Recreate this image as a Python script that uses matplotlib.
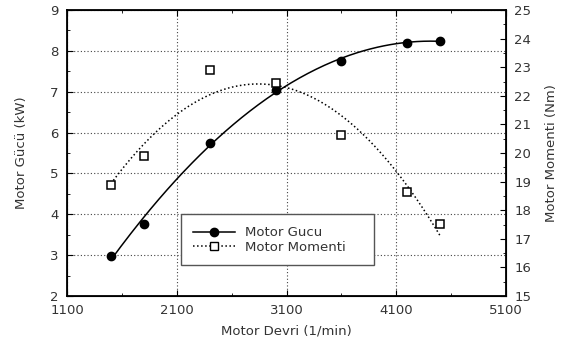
import numpy as np
import matplotlib
matplotlib.use("Agg")
import matplotlib.pyplot as plt
from matplotlib.ticker import MultipleLocator

# veriler
devir = [1500, 1800, 2400, 3000, 3600, 4200, 4500]
guc = [2.98, 3.76, 5.74, 7.04, 7.76, 8.20, 8.25]
moment = [18.88, 19.90, 22.90, 22.44, 20.62, 18.64, 17.52]

plt.rcParams['font.family'] = ['DejaVu Sans']
plt.rcParams['font.size'] = 9.5

fig = plt.figure(figsize=(5.66, 3.44), dpi=100)
ax = fig.add_axes([67/566, 48/344, 439/566, 286/344])
ax2 = ax.twinx()

# ikinci derece egri uydurma
xs = np.linspace(min(devir), max(devir), 200)
p1 = np.polyfit(devir, guc, 2)
p2 = np.polyfit(devir, moment, 2)

ax.plot(xs, np.polyval(p1, xs), '-', color='black', lw=1.1)
ax.plot(devir, guc, 'o', color='black', ms=6)
ax2.plot(xs, np.polyval(p2, xs), ':', color='black', lw=1.1)
ax2.plot(devir, moment, 's', mfc='white', mec='black', mew=1.1, ms=6)

ax.set_xlim(1100, 5100)
ax.set_ylim(2, 9)
ax2.set_ylim(15, 25)
ax.xaxis.set_major_locator(MultipleLocator(1000, offset=100))
ax.xaxis.set_minor_locator(MultipleLocator(500, offset=100))
ax.yaxis.set_major_locator(MultipleLocator(1))
ax.yaxis.set_minor_locator(MultipleLocator(0.5))
ax2.yaxis.set_major_locator(MultipleLocator(1))
ax2.yaxis.set_minor_locator(MultipleLocator(0.5))

ax.grid(True, which='major', linestyle=(0, (1, 2)), color='#444444', lw=0.8)
for a in (ax, ax2):
    a.tick_params(which='both', direction='in', colors='black', labelcolor='#333333', pad=6)
    a.tick_params(which='major', length=4)
    a.tick_params(which='minor', length=2.5)
ax.tick_params(top=True, which='both', labeltop=False)
for s in ax.spines.values():
    s.set_linewidth(1.3)

ax.set_xlabel('Motor Devri (1/min)', color='#333333', labelpad=5)
ax.set_ylabel('Motor Gücü (kW)', color='#333333', labelpad=16)
ax2.set_ylabel('Motor Momenti (Nm)', color='#333333', labelpad=10)

h1 = plt.Line2D([], [], color='black', lw=1.1, marker='o', ms=6)
h2 = plt.Line2D([], [], color='black', lw=1.1, ls=':', marker='s', mfc='white', mec='black', ms=6)
leg = ax2.legend([h1, h2], ['Motor Gucu', 'Motor Momenti'], loc='lower left',
                 bbox_to_anchor=(0.244, 0.084, 0.47, 0.19), mode='expand',
                 fancybox=False, framealpha=1, edgecolor='#555555',
                 handlelength=3.2, borderpad=0.9, labelspacing=0.1, fontsize=9.5)
for t in leg.get_texts():
    t.set_color('#333333')

fig.savefig('out.png', dpi=100)
